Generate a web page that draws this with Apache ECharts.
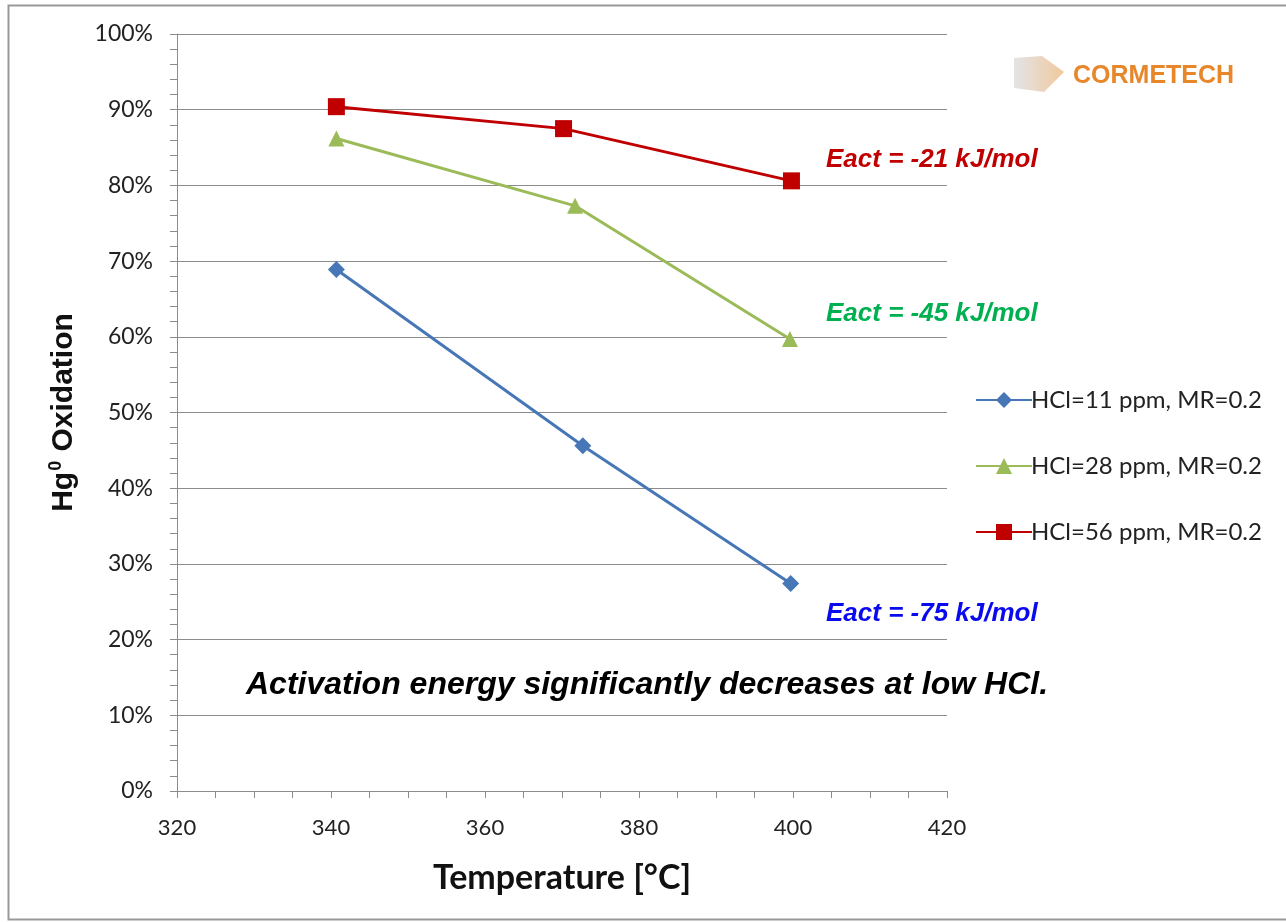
<!DOCTYPE html>
<html>
<head>
<meta charset="utf-8">
<script src="https://cdn.jsdelivr.net/npm/echarts@6/dist/echarts.min.js"></script>
<style>
html,body{margin:0;padding:0;background:#fff;}
#chart{width:1286px;height:922px;}
</style>
</head>
<body>
<div id="chart"></div>
<script>
// ---- data ----
var seriesNames = ['HCl=11 ppm, MR=0.2', 'HCl=28 ppm, MR=0.2', 'HCl=56 ppm, MR=0.2'];
var tempHCl11 = [340.7, 372.7, 399.7];
var oxHCl11 = [68.9, 45.6, 27.4];
var tempHCl28 = [340.7, 371.7, 399.6];
var oxHCl28 = [86.2, 77.3, 59.7];
var tempHCl56 = [340.7, 370.2, 399.8];
var oxHCl56 = [90.4, 87.5, 80.6];
var xTicks = [320, 340, 360, 380, 400, 420];
var yTicks = [0, 10, 20, 30, 40, 50, 60, 70, 80, 90, 100];
var eactLabels = ['Eact = -21 kJ/mol', 'Eact = -45 kJ/mol', 'Eact = -75 kJ/mol'];
var noteText = 'Activation energy significantly decreases at low HCl.';
var logoText = 'CORMETECH';

function pairs(xs, ys) { return xs.map(function (x, i) { return [x, ys[i]]; }); }

var chart = echarts.init(document.getElementById('chart'));
var axisGray = '#8c8c8c';
var tickFont = 'Lato, "Open Sans", sans-serif';
var arialBI = '"Liberation Sans", Arial, sans-serif';

var option = {
  backgroundColor: '#fff',
  animation: false,
  grid: { left: 177, right: 339, top: 34, bottom: 131, containLabel: false },
  xAxis: {
    type: 'value', min: xTicks[0], max: xTicks[xTicks.length - 1], interval: 20,
    name: 'Temperature [°C]', nameLocation: 'middle', nameGap: 70,
    nameTextStyle: { fontFamily: 'Lato, "Open Sans", sans-serif', fontWeight: 'bold', fontSize: 34, color: '#111' },
    axisLine: { show: true, lineStyle: { color: axisGray, width: 1 } },
    axisTick: { show: true, length: 7, lineStyle: { color: axisGray } },
    minorTick: { show: true, splitNumber: 4, length: 7, lineStyle: { color: axisGray } },
    splitLine: { show: false },
    axisLabel: { fontFamily: tickFont, fontSize: 22, color: '#222', margin: 26 }
  },
  yAxis: {
    type: 'value', min: yTicks[0], max: yTicks[yTicks.length - 1], interval: 10,
    name: '{a|Hg}{s|0}{a| Oxidation}', nameLocation: 'middle', nameGap: 96, nameRotate: 90,
    nameTextStyle: {
      rich: {
        a: { fontFamily: arialBI, fontWeight: 'bold', fontSize: 30, color: '#111' },
        s: { fontFamily: arialBI, fontWeight: 'bold', fontSize: 18, color: '#111', padding: [0, 1, 16, 1] }
      }
    },
    axisLine: { show: true, lineStyle: { color: axisGray, width: 1 } },
    axisTick: { show: true, length: 7, lineStyle: { color: axisGray } },
    minorTick: { show: true, splitNumber: 5, length: 7, lineStyle: { color: axisGray } },
    splitLine: { show: true, lineStyle: { color: '#8c8c8c', width: 1 } },
    axisLabel: { fontFamily: tickFont, fontSize: 23, color: '#222', margin: 24, formatter: '{value}%' }
  },
  legend: {
    orient: 'vertical', left: 970, top: 383, itemGap: 42,
    itemWidth: 56, itemHeight: 20,
    textStyle: { fontFamily: tickFont, fontSize: 24, color: '#222', padding: [0, 0, 0, -6] },
    data: seriesNames
  },
  series: [
    {
      name: seriesNames[0], type: 'line', data: pairs(tempHCl11, oxHCl11),
      symbol: 'diamond', symbolSize: 17,
      lineStyle: { color: '#4777b6', width: 3 },
      itemStyle: { color: '#4777b6' }
    },
    {
      name: seriesNames[1], type: 'line', data: pairs(tempHCl28, oxHCl28),
      symbol: 'triangle', symbolSize: 16,
      lineStyle: { color: '#9bbb59', width: 3 },
      itemStyle: { color: '#9bbb59' }
    },
    {
      name: seriesNames[2], type: 'line', data: pairs(tempHCl56, oxHCl56),
      symbol: 'rect', symbolSize: 17,
      lineStyle: { color: '#c00000', width: 3 },
      itemStyle: { color: '#c00000' }
    }
  ],
  graphic: [
    { type: 'rect', shape: { x: 8.5, y: 5.5, width: 1290, height: 914 }, style: { fill: null, stroke: '#999', lineWidth: 2 }, silent: true, z: 0 },
    { type: 'text', left: 826, top: 147, style: { text: eactLabels[0], fill: '#c00000', font: 'italic bold 26px ' + arialBI } },
    { type: 'text', left: 826, top: 301, style: { text: eactLabels[1], fill: '#00b050', font: 'italic bold 26px ' + arialBI } },
    { type: 'text', left: 826, top: 601, style: { text: eactLabels[2], fill: '#0a0aee', font: 'italic bold 26px ' + arialBI } },
    { type: 'text', left: 246, top: 669, style: { text: noteText, fill: '#000', font: 'italic bold 32px ' + arialBI } },
    {
      type: 'group', left: 1014, top: 56, children: [
        { type: 'polygon', shape: { points: [[0, 6], [28, 4], [50, 20], [30, 40], [0, 36]] },
          style: { fill: new echarts.graphic.LinearGradient(0, 0, 1, 0, [{ offset: 0, color: 'rgba(200,200,200,0.5)' }, { offset: 1, color: 'rgba(235,170,100,0.65)' }]) } },
        { type: 'text', x: 59, y: 12, style: { text: logoText, fill: '#e8862a', font: 'bold 25px "Liberation Sans Narrow", "Liberation Sans", Arial, sans-serif' } }
      ]
    }
  ]
};
chart.setOption(option);
</script>
</body>
</html>
